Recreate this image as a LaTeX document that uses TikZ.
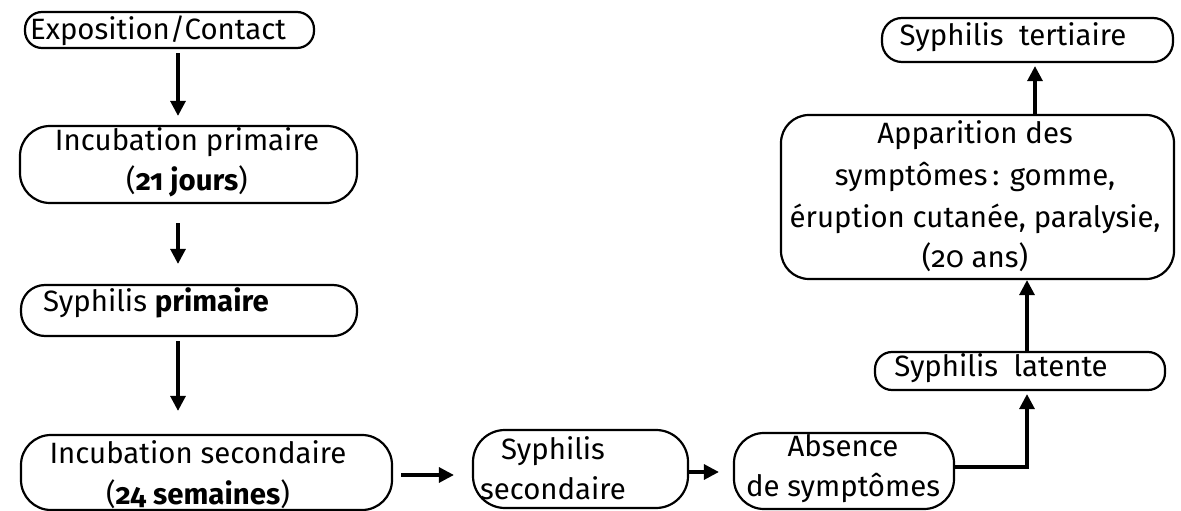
\documentclass[tikz,border=0pt]{standalone}
\usepackage{fontspec}
\setmainfont{Fira Sans}[Numbers=OldStyle]
\usetikzlibrary{arrows.meta,calc}
\begin{document}
\begin{tikzpicture}[x=1bp,y=-1bp,
  box/.style={draw=black, line width=2.2bp, rounded corners=#1, inner sep=0pt},
  box/.default=16bp,
  txt/.style={font=\fontsize{29.5}{40}\selectfont, align=center, inner sep=0pt, text=black},
  arr/.style={line width=3.2bp, -{Triangle[length=15bp,width=15bp]}}]
\path[use as bounding box, fill=white] (0,0) rectangle (1181,511);
% boxes
\node[box=17bp, minimum width=289bp, minimum height=36bp] (expo) at (169.5,30) {};
\node[box=30bp, minimum width=337bp, minimum height=77bp] (incp) at (188.5,164.5) {};
\node[box=24bp, minimum width=336bp, minimum height=51bp] (synp) at (189,310.5) {};
\node[box=30bp, minimum width=371bp, minimum height=75bp] (incs) at (206.5,472.5) {};
\node[box=32bp, minimum width=215bp, minimum height=78bp] (syns) at (580.5,469) {};
\node[box=30bp, minimum width=220bp, minimum height=76bp] (abs) at (844,471) {};
\node[box=17bp, minimum width=290bp, minimum height=38bp] (lat) at (1020,371) {};
\node[box=28bp, minimum width=393bp, minimum height=164bp] (app) at (977.5,197) {};
\node[box=20bp, minimum width=291bp, minimum height=44bp] (ter) at (1027.5,40) {};
% texts
\node[txt] (texpo) at (158,31) {Exposition/Contact};
\node[txt] (tincp) at (187,162) {Incubation primaire\\(\textbf{21 jours})};
\node[txt] (tsynp) at (156,303) {Syphilis \textbf{primaire}};
\node[txt] (tincs) at (198,475) {Incubation secondaire\\[1pt](\textbf{24 semaines})};
\node[txt] (tsyns) at (553,468) {Syphilis\\secondaire};
\node[txt] (tabs) at (843,469) {Absence\\de symptômes};
\node[txt] (tlat) at (1001,368) {Syphilis\ \ latente};
\node[txt] (tapp) at (975,196) {Apparition des\\[3pt]symptômes\,: gomme,\\[2pt]éruption cutanée, paralysie,\\(20 ans)};
\node[txt] (tter) at (1013,37) {Syphilis\ \ tertiaire};
% connector guides
\coordinate (ax) at (178,0);
\coordinate (h4) at (0,475);
\coordinate (h5) at (0,472);
\coordinate (h6) at (0,467);
\coordinate (v6) at (1027,0);
\coordinate (v8) at (1035,0);
% connectors
\draw[arr, shorten <=4bp, shorten >=9bp] (expo.south -| ax) -- (incp.north -| ax);
\draw[arr, shorten <=19bp, shorten >=20bp] (incp.south -| ax) -- (synp.north -| ax);
\draw[arr, shorten <=4bp, shorten >=23bp] (synp.south -| ax) -- (incs.north -| ax);
\draw[arr, shorten <=8bp, shorten >=18bp] (incs.east |- h4) -- (syns.west |- h4);
\draw[arr, shorten >=14bp] (syns.east |- h5) -- (abs.west |- h5);
\draw[arr, shorten >=3bp] (abs.east |- h6) -| (lat.south -| v6);
\draw[arr] (lat.north -| v6) -- (app.south -| v6);
\draw[arr, shorten >=3bp] (app.north -| v8) -- (ter.south -| v8);
\end{tikzpicture}
\end{document}
